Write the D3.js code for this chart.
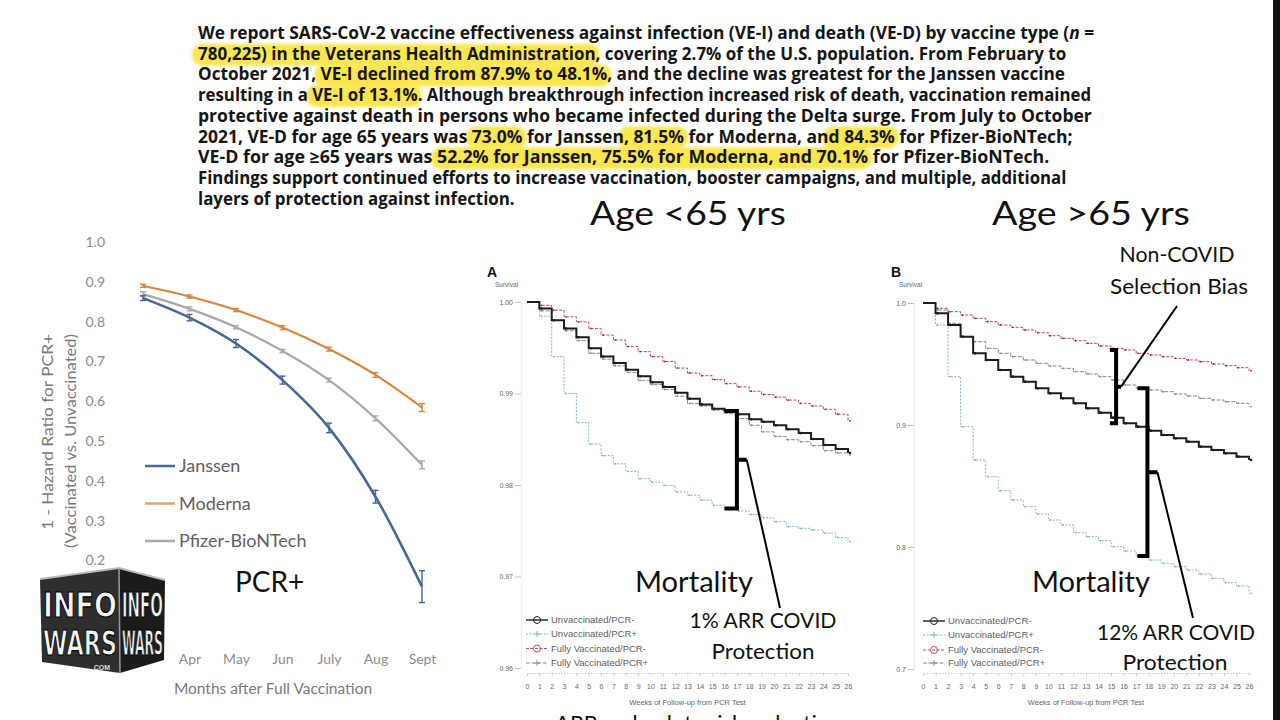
<!DOCTYPE html>
<html>
<head>
<meta charset="utf-8">
<script src="https://cdn.jsdelivr.net/npm/d3@7"></script>
<style>
  html, body { margin: 0; padding: 0; background: #fff; }
  svg { display: block; }
  text { white-space: pre; }
</style>
</head>
<body>
<svg id="chart" width="1280" height="720"></svg>
<script>
// ---- abstract text, one entry per printed line ("hl" = highlighted, "i" = italic)
const paragraphLines = [
  [["We report SARS-CoV-2 vaccine effectiveness against infection (VE-I) and death (VE-D) by vaccine type ("], ["n", "i"], [" ="]],
  [["780,225) in the Veterans Health Administration", "hl"], [", covering 2.7% of the U.S. population. From February to"]],
  [["October 2021, "], ["VE-I declined from 87.9% to 48.1%", "hl"], [", and the decline was greatest for the Janssen vaccine"]],
  [["resulting in a "], ["VE-I of 13.1%", "hl"], [". Although breakthrough infection increased risk of death, vaccination remained"]],
  [["protective against death in persons who became infected during the Delta surge. From July to October"]],
  [["2021, VE-D for age 65 years was "], ["73.0%", "hl"], [" for Janssen"], [", 81.5%", "hl"], [" for Moderna, an"], ["d 84.3%", "hl"], [" for Pfizer-BioNTech;"]],
  [["VE-D for age \u226565 years was "], ["52.2% for Janssen, 75.5% for Moderna, and 70.1%", "hl"], [" for Pfizer-BioNTech."]],
  [["Findings support continued efforts to increase vaccination, booster campaigns, and multiple, additional"]],
  [["layers of protection against infection."]],
]

// ---- left chart: 1 - hazard ratio for PCR+ by month after full vaccination
const months = ["Mar", "Apr", "May", "Jun", "July", "Aug", "Sept"]
const shownMonths = ["Apr", "May", "Jun", "July", "Aug", "Sept"]
const janssen = [0.859, 0.810, 0.745, 0.653, 0.533, 0.360, 0.134]
const janssenErr = [0.006, 0.008, 0.010, 0.010, 0.012, 0.016, 0.040]
const moderna = [0.890, 0.863, 0.829, 0.785, 0.731, 0.666, 0.584]
const modernaErr = [0.004, 0.004, 0.004, 0.005, 0.005, 0.006, 0.010]
const pfizer = [0.869, 0.832, 0.786, 0.726, 0.653, 0.557, 0.440]
const pfizerErr = [0.006, 0.005, 0.004, 0.004, 0.005, 0.006, 0.010]
const hazardTicks = [0.2, 0.3, 0.4, 0.5, 0.6, 0.7, 0.8, 0.9, 1.0]
const vaccineNames = ["Janssen", "Moderna", "Pfizer-BioNTech"]

// ---- survival panels, weeks of follow-up from PCR test
const weeks = [0, 1, 2, 3, 4, 5, 6, 7, 8, 9, 10, 11, 12, 13, 14, 15, 16, 17, 18, 19, 20, 21, 22, 23, 24, 25, 26]
const groupNames = ["Unvaccinated/PCR-", "Unvaccinated/PCR+", "Fully Vaccinated/PCR-", "Fully Vaccinated/PCR+"]

// panel A, age < 65
const under65UnvacNeg = [1.0, 0.99928, 0.99801, 0.99711, 0.99614, 0.99495, 0.99404, 0.99332, 0.99260, 0.99188, 0.99123, 0.99072, 0.99007, 0.98942, 0.98881, 0.98834, 0.98809, 0.98773, 0.98718, 0.98690, 0.98653, 0.98610, 0.98567, 0.98502, 0.98437, 0.98394, 0.98350]
const under65UnvacPos = [1.0, 0.99845, 0.99404, 0.99000, 0.98682, 0.98448, 0.98321, 0.98231, 0.98148, 0.98069, 0.98032, 0.97996, 0.97924, 0.97888, 0.97834, 0.97780, 0.97744, 0.97715, 0.97679, 0.97643, 0.97599, 0.97545, 0.97527, 0.97509, 0.97473, 0.97426, 0.97383]
const under65VacNeg = [1.0, 0.99964, 0.99910, 0.99838, 0.99783, 0.99711, 0.99639, 0.99585, 0.99513, 0.99458, 0.99404, 0.99350, 0.99278, 0.99224, 0.99195, 0.99152, 0.99108, 0.99072, 0.99025, 0.98989, 0.98960, 0.98928, 0.98892, 0.98863, 0.98827, 0.98773, 0.98700]
const under65VacPos = [1.0, 0.99903, 0.99801, 0.99686, 0.99578, 0.99440, 0.99375, 0.99303, 0.99231, 0.99144, 0.99097, 0.99043, 0.98971, 0.98892, 0.98863, 0.98819, 0.98783, 0.98726, 0.98653, 0.98581, 0.98531, 0.98495, 0.98473, 0.98430, 0.98375, 0.98350, 0.98329]
const under65Ticks = [0.96, 0.97, 0.98, 0.99, 1.0]

// panel B, age >= 65
const over65UnvacNeg = [1.0, 0.99153, 0.98197, 0.97240, 0.95874, 0.95328, 0.94508, 0.93962, 0.93552, 0.93005, 0.92596, 0.92186, 0.91776, 0.91366, 0.91011, 0.90601, 0.90137, 0.89863, 0.89536, 0.89180, 0.88907, 0.88634, 0.88224, 0.87951, 0.87678, 0.87404, 0.87131]
const over65UnvacPos = [1.0, 0.98197, 0.93962, 0.89863, 0.87131, 0.85765, 0.84617, 0.83852, 0.83306, 0.82705, 0.82213, 0.81803, 0.81175, 0.80847, 0.80519, 0.80027, 0.79672, 0.79262, 0.78934, 0.78661, 0.78388, 0.78115, 0.77787, 0.77432, 0.77077, 0.76803, 0.76202]
const over65VacNeg = [1.0, 0.99563, 0.99290, 0.99016, 0.98743, 0.98470, 0.98197, 0.98005, 0.97787, 0.97568, 0.97322, 0.97104, 0.96913, 0.96694, 0.96475, 0.96284, 0.96148, 0.95874, 0.95738, 0.95601, 0.95464, 0.95328, 0.95191, 0.95000, 0.94863, 0.94699, 0.94454]
const over65VacPos = [1.0, 0.99426, 0.98333, 0.97240, 0.96831, 0.96284, 0.95874, 0.95601, 0.95328, 0.95055, 0.94836, 0.94645, 0.94372, 0.94180, 0.93962, 0.93689, 0.93279, 0.93005, 0.92869, 0.92732, 0.92541, 0.92377, 0.92186, 0.92049, 0.91913, 0.91776, 0.91503]
const over65Ticks = [0.7, 0.8, 0.9, 1.0]

const LABEL_FONT = "Lato, 'Open Sans', sans-serif"
const SMALL_FONT = "'Liberation Sans', Arial, sans-serif"

const groupStyles = [
  { color: "#1d1d1d", width: 2, dash: null, marker: "circle" },
  { color: "#7fb6bf", width: 1, dash: "2,1.5", marker: "plus" },
  { color: "#c9485b", width: 1, dash: "3,1.5", marker: "circle" },
  { color: "#8a8a8a", width: 1, dash: "4,1.5", marker: "plus" },
]

/**
 * Squeezes or stretches a text horizontally so it spans `width` pixels,
 * anchored at its left edge (x, baseline).
 */
function fitWidth(text, x, baseline, width) {
  const natural = text.node().getComputedTextLength()
  text.attr("transform", `translate(${x}, ${baseline}) scale(${width / natural}, 1)`)
}

/**
 * Abstract paragraph at the top, each line squeezed to the printed width,
 * with the yellow marker highlights behind selected phrases.
 *
 * @param {Object} svg d3 selection
 */
function drawParagraph(svg) {
  const left = 198
  const firstBaseline = 39
  const lineHeight = 20.7
  const lineEnds = [1095, 1067, 1066, 1092, 1093, 1073, 1050, 1067, 515]

  const defs = svg.append("defs")
  defs.append("filter")
    .attr("id", "marker-blur")
    .attr("x", "-10%").attr("y", "-40%").attr("width", "120%").attr("height", "180%")
    .append("feGaussianBlur")
    .attr("stdDeviation", 1.6)

  paragraphLines.forEach((segments, i) => {
    const lineG = svg.append("g")
    const marks = lineG.append("g")
    const text = lineG.append("text")
      .attr("font-family", "'Open Sans', sans-serif")
      .attr("font-weight", 700)
      .attr("font-size", 17)
      .attr("fill", "#151515")

    // one run per change of font style; highlights are only drawn behind
    const runs = []
    segments.forEach(([str, kind]) => {
      const italic = kind === "i"
      const last = runs[runs.length - 1]
      if (last && last.italic === italic) last.str += str
      else runs.push({ str, italic })
    })
    runs.forEach((run) => {
      text.append("tspan")
        .attr("font-style", run.italic ? "italic" : null)
        .text(run.str)
    })

    const node = text.node()
    const natural = node.getComputedTextLength()
    const sx = (lineEnds[i] - left) / natural
    lineG.attr("transform", `translate(${left}, ${firstBaseline + i * lineHeight}) scale(${sx}, 1)`)

    let offset = 0
    segments.forEach(([str, kind]) => {
      if (kind === "hl") {
        const x0 = node.getStartPositionOfChar(offset).x
        const x1 = node.getEndPositionOfChar(offset + str.length - 1).x
        marks.append("rect")
          .attr("x", x0 - 6)
          .attr("y", -16)
          .attr("width", x1 - x0 + 10)
          .attr("height", 22)
          .attr("rx", 10)
          .attr("fill", "#fbe443")
          .attr("opacity", 0.92)
          .attr("filter", "url(#marker-blur)")
      }
      offset += str.length
    })
  })
}

/**
 * Left line chart: 1 - hazard ratio by vaccine and month.
 *
 * @param {Object} svg d3 selection
 */
function drawHazardChart(svg) {
  const x = d3.scalePoint().domain(months).range([143, 422])
  const y = d3.scaleLinear().domain([0, 1]).range([640, 242])

  const yAxis = svg.append("g")
    .attr("transform", "translate(108, 0)")
    .call(d3.axisLeft(y).tickValues(hazardTicks).tickFormat(d3.format(".1f")).tickSize(0).tickPadding(3))
  yAxis.select(".domain").remove()
  yAxis.selectAll("text")
    .attr("font-family", LABEL_FONT).attr("font-size", 14).attr("fill", "#8c8c8c")

  // the March label sits under the watermark, so only the visible months are labelled
  const xAxis = svg.append("g")
    .attr("transform", "translate(0, 651)")
    .call(d3.axisBottom(x).tickValues(shownMonths).tickSize(0).tickPadding(3))
  xAxis.select(".domain").remove()
  xAxis.selectAll("text")
    .attr("font-family", LABEL_FONT).attr("font-size", 14).attr("fill", "#8c8c8c")

  svg.append("text")
    .attr("x", 273).attr("y", 694)
    .attr("text-anchor", "middle")
    .attr("font-family", LABEL_FONT).attr("font-size", 15.5).attr("fill", "#7a7a7a")
    .text("Months after Full Vaccination")

  const titleLines = ["1 - Hazard Ratio for PCR+", "(Vaccinated vs. Unvaccinated)"]
  const titleX = [53, 76]
  const titleY = [432, 441]
  const titleLen = [196, 214]
  titleLines.forEach((line, i) => {
    svg.append("text")
      .attr("transform", `translate(${titleX[i]}, ${titleY[i]}) rotate(-90)`)
      .attr("text-anchor", "middle")
      .attr("textLength", titleLen[i])
      .attr("lengthAdjust", "spacingAndGlyphs")
      .attr("font-family", LABEL_FONT).attr("font-size", 15.5).attr("fill", "#7a7a7a")
      .text(line)
  })

  const series = [
    { values: janssen, err: janssenErr, color: "#45679a", width: 2.6 },
    { values: moderna, err: modernaErr, color: "#d6863f", width: 2.2 },
    { values: pfizer, err: pfizerErr, color: "#a9a9a9", width: 2.2 },
  ]

  const line = d3.line()
    .x((d, i) => x(months[i]))
    .y((d) => y(d))
    .curve(d3.curveMonotoneX)

  // draw back to front so the blue curve stays on top
  series.slice().reverse().forEach((s) => {
    svg.append("path")
      .datum(s.values)
      .attr("fill", "none")
      .attr("stroke", s.color)
      .attr("stroke-width", s.width)
      .attr("d", line)

    const bars = svg.append("g").attr("stroke", s.color).attr("stroke-width", 1.4)
    s.values.forEach((v, i) => {
      const cx = x(months[i])
      const top = y(v + s.err[i])
      const bottom = y(v - s.err[i])
      bars.append("line").attr("x1", cx).attr("x2", cx).attr("y1", top).attr("y2", bottom)
      bars.append("line").attr("x1", cx - 3).attr("x2", cx + 3).attr("y1", top).attr("y2", top)
      bars.append("line").attr("x1", cx - 3).attr("x2", cx + 3).attr("y1", bottom).attr("y2", bottom)
    })
  })

  const legendY = [466, 503.5, 541]
  const legendColors = ["#45679a", "#e0a46d", "#a9a9a9"]
  vaccineNames.forEach((name, i) => {
    svg.append("line")
      .attr("x1", 145).attr("x2", 175)
      .attr("y1", legendY[i]).attr("y2", legendY[i])
      .attr("stroke", legendColors[i]).attr("stroke-width", 2.5)
    svg.append("text")
      .attr("x", 179).attr("y", legendY[i] + 6)
      .attr("font-family", LABEL_FONT).attr("font-size", 18).attr("fill", "#5f5f5f")
      .text(name)
  })

  svg.append("text")
    .attr("x", 235).attr("y", 591.5)
    .attr("font-family", LABEL_FONT).attr("font-size", 28).attr("fill", "#111")
    .text("PCR+")
}

/**
 * One Kaplan-Meier style survival panel.
 *
 * @param {Object} svg d3 selection
 * @param {Object} cfg panel settings
 * @return {Object} the x and y scales
 */
function drawSurvivalPanel(svg, cfg) {
  const x = d3.scaleLinear().domain([0, 26]).range(cfg.xRange)
  const y = d3.scaleLinear().domain(cfg.yDomain).range(cfg.yRange)

  const yAxis = svg.append("g")
    .attr("transform", `translate(${cfg.axisX}, 0)`)
    .call(d3.axisLeft(y).tickValues(cfg.ticks).tickFormat(d3.format(cfg.tickFormat)).tickSize(6).tickPadding(2))
  yAxis.select(".domain").attr("stroke", "#ececec")
  yAxis.selectAll(".tick line").attr("stroke", "#c4c4c4")
  yAxis.selectAll("text").attr("font-family", SMALL_FONT).attr("font-size", 7).attr("fill", "#666")

  const xAxis = svg.append("g")
    .attr("transform", "translate(0, 673)")
    .call(d3.axisBottom(x).tickValues(weeks).tickSize(3).tickPadding(8))
  xAxis.select(".domain").attr("stroke", "#c8c8c8").attr("stroke-dasharray", "1.5,1.5")
  xAxis.selectAll(".tick line").attr("stroke", "#d0d0d0")
  xAxis.selectAll("text").attr("font-family", SMALL_FONT).attr("font-size", 7).attr("fill", "#666")

  svg.append("text")
    .attr("x", (cfg.xRange[0] + cfg.xRange[1]) / 2).attr("y", 705)
    .attr("text-anchor", "middle")
    .attr("font-family", SMALL_FONT).attr("font-size", 7.5).attr("fill", "#666")
    .text("Weeks of Follow-up from PCR Test")

  svg.append("text")
    .attr("x", cfg.letterX).attr("y", 277)
    .attr("font-family", SMALL_FONT).attr("font-weight", 700).attr("font-size", 14).attr("fill", "#111")
    .text(cfg.letter)
  svg.append("text")
    .attr("x", cfg.letterX + 8).attr("y", 287)
    .attr("font-family", SMALL_FONT).attr("font-size", 6.5).attr("fill", "#666")
    .text("Survival")

  const line = d3.line()
    .x((d, i) => x(weeks[i]))
    .y((d) => y(d))
    .curve(d3.curveStepAfter)

  const order = [1, 3, 2, 0]
  order.forEach((k) => {
    const style = groupStyles[k]
    const values = cfg.series[k]
    svg.append("path")
      .datum(values)
      .attr("fill", "none")
      .attr("stroke", style.color)
      .attr("stroke-width", style.width)
      .attr("stroke-dasharray", style.dash)
      .attr("d", line)

    svg.append("g")
      .selectAll("circle")
      .data(values.slice(1))
      .join("circle")
      .attr("cx", (d, i) => x(weeks[i + 1]) + 2)
      .attr("cy", (d) => y(d))
      .attr("r", k === 0 ? 1.3 : 0.9)
      .attr("fill", k === 2 ? "#7a2a35" : style.color)
  })

  groupNames.forEach((name, k) => {
    const style = groupStyles[k]
    const ly = cfg.legendY[k]
    const x0 = cfg.legendX
    svg.append("line")
      .attr("x1", x0).attr("x2", x0 + 22)
      .attr("y1", ly).attr("y2", ly)
      .attr("stroke", style.color)
      .attr("stroke-width", k === 0 ? 1.4 : 1)
      .attr("stroke-dasharray", style.dash)
    if (style.marker === "circle") {
      svg.append("circle")
        .attr("cx", x0 + 11).attr("cy", ly).attr("r", 3.5)
        .attr("fill", "none").attr("stroke", style.color).attr("stroke-width", 1)
    } else {
      svg.append("path")
        .attr("d", `M${x0 + 11},${ly - 3}V${ly + 3}M${x0 + 8},${ly}H${x0 + 14}`)
        .attr("stroke", style.color).attr("stroke-width", 1)
    }
    svg.append("text")
      .attr("x", x0 + 25).attr("y", ly + 3.3)
      .attr("font-family", SMALL_FONT).attr("font-size", 9.5).attr("fill", "#5e5e5e")
      .text(name)
  })

  return { x, y }
}

/**
 * Thick square bracket joining two curves, with a pointer line from its nub.
 */
function drawBracket(svg, xv, xHook, xNub, yTop, yBottom, pointerEnd) {
  const yMid = (yTop + yBottom) / 2
  svg.append("path")
    .attr("d", `M${xHook},${yTop}H${xv}V${yBottom}H${xHook}M${xv},${yMid}H${xNub}`)
    .attr("fill", "none")
    .attr("stroke", "#000")
    .attr("stroke-width", 4)
    .attr("stroke-linejoin", "miter")
  svg.append("line")
    .attr("x1", xNub).attr("y1", yMid)
    .attr("x2", pointerEnd[0]).attr("y2", pointerEnd[1])
    .attr("stroke", "#000")
    .attr("stroke-width", 2)
}

/**
 * Big slide label, centred on x and fitted to the printed width.
 */
function label(svg, str, x, y, size, width) {
  const text = svg.append("text")
    .attr("font-family", LABEL_FONT)
    .attr("font-size", size)
    .attr("fill", "#111")
    .text(str)
  fitWidth(text, x - width / 2, y, width)
}

/**
 * Infowars cube watermark over the lower-left corner.
 */
function drawLogo(svg) {
  const g = svg.append("g")
  g.append("path").attr("d", "M40,579 L119,568 L120,673 L42,662 Z").attr("fill", "#2e2e2e")
  g.append("path").attr("d", "M119,568 L165,580 L164,660 L120,673 Z").attr("fill", "#1b1b1b")
  g.append("path").attr("d", "M40,579 L119,568 L165,580").attr("fill", "none").attr("stroke", "#bbb").attr("stroke-width", 2)
  g.append("line").attr("x1", 119).attr("x2", 120).attr("y1", 568).attr("y2", 673).attr("stroke", "#999").attr("stroke-width", 1.5)

  const words = [["INFO", 617], ["WARS", 655]]
  const faces = [[43, 74], [122, 41]]
  faces.forEach(([fx, fw]) => {
    words.forEach(([word, baseline]) => {
      const text = g.append("text")
        .attr("font-family", "'DejaVu Sans', sans-serif")
        .attr("font-weight", 700)
        .attr("font-size", 34)
        .attr("fill", "#f4f4f4")
        .attr("stroke", "#000")
        .attr("stroke-width", 1.2)
        .text(word)
      fitWidth(text, fx, baseline, fw)
    })
  })
  g.append("text")
    .attr("x", 101).attr("y", 670)
    .attr("text-anchor", "middle")
    .attr("font-family", SMALL_FONT).attr("font-weight", 700).attr("font-size", 7)
    .attr("fill", "#ddd")
    .text(".COM")
}

const svg = d3.select("#chart")
svg.append("rect").attr("width", 1280).attr("height", 720).attr("fill", "#fff")

drawParagraph(svg)
drawHazardChart(svg)

const panelA = drawSurvivalPanel(svg, {
  xRange: [527, 848],
  yDomain: [0.96, 1.0],
  yRange: [668, 302],
  axisX: 521,
  ticks: under65Ticks,
  tickFormat: ".2f",
  letter: "A",
  letterX: 487,
  legendX: 526,
  legendY: [620, 634, 648.5, 663],
  series: [under65UnvacNeg, under65UnvacPos, under65VacNeg, under65VacPos],
})

const panelB = drawSurvivalPanel(svg, {
  xRange: [923, 1249],
  yDomain: [0.7, 1.0],
  yRange: [669, 303],
  axisX: 914,
  ticks: over65Ticks,
  tickFormat: ".1f",
  letter: "B",
  letterX: 891,
  legendX: 923,
  legendY: [621, 635, 650, 663],
  series: [over65UnvacNeg, over65UnvacPos, over65VacNeg, over65VacPos],
})

// brackets joining the curves at the week they compare
drawBracket(svg, panelA.x(17), panelA.x(16), panelA.x(17.8),
  panelA.y(under65UnvacNeg[16]), panelA.y(under65UnvacPos[16]), [780, 608])
drawBracket(svg, panelB.x(15.4), panelB.x(14.9), panelB.x(15.8),
  panelB.y(over65VacNeg[16]), panelB.y(over65UnvacNeg[16]), [1177, 306])
drawBracket(svg, panelB.x(17.9), panelB.x(17.1), panelB.x(18.7),
  panelB.y(over65VacPos[17]), panelB.y(over65UnvacPos[17]), [1193, 618])

label(svg, "Age <65 yrs", 688, 225, 33, 196)
label(svg, "Age >65 yrs", 1091, 225, 33, 198)
label(svg, "Non-COVID", 1177, 262, 21, 115)
label(svg, "Selection Bias", 1179, 294, 21, 138)
label(svg, "Mortality", 694, 592, 28, 118)
label(svg, "1% ARR COVID", 763, 628, 21, 147)
label(svg, "Protection", 763, 659, 21, 103)
label(svg, "Mortality", 1091, 592, 28, 118)
label(svg, "12% ARR COVID", 1176, 640, 21, 158)
label(svg, "Protection", 1175, 670, 21, 105)

svg.append("text")
  .attr("x", 555).attr("y", 731)
  .attr("font-family", LABEL_FONT).attr("font-size", 22).attr("fill", "#111")
  .text("ARR = absolute risk reduction")

drawLogo(svg)

svg.append("rect")
  .attr("x", 1273).attr("y", 0).attr("width", 7).attr("height", 720)
  .attr("fill", "#111")
</script>
</body>
</html>
